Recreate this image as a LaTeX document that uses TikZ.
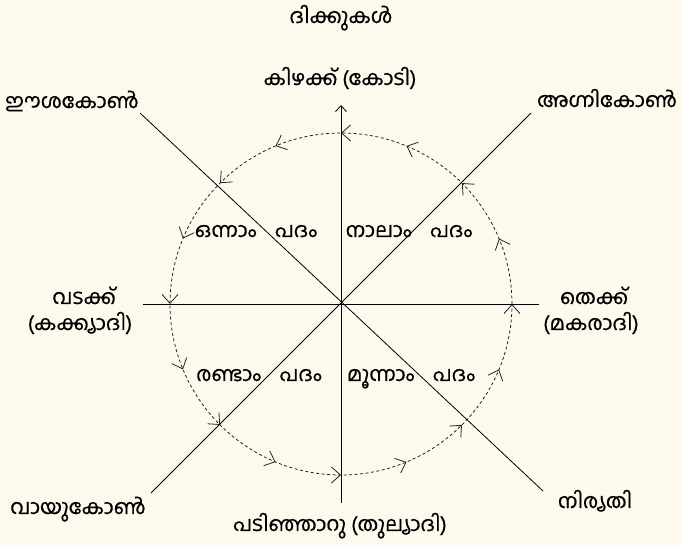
\documentclass[tikz,border=0pt]{standalone}
\usepackage{fontspec}
\newfontfamily\mal[Script=Malayalam,FakeBold=0.5]{Hind Kochi}
\usetikzlibrary{arrows.meta,decorations.markings}
\definecolor{bgcream}{RGB}{253,249,237}
\begin{document}
\begin{tikzpicture}[x=1pt,y=1pt,
  lbl/.style={font=\mal\fontsize{20.5}{24}\selectfont, inner sep=0pt, anchor=base},
  axis/.style={line width=0.8pt, black},
  circ/.style={line width=0.75pt, black!90, dash pattern=on 3pt off 2.5pt,
    postaction={decorate, decoration={markings,
      mark=between positions 0 and 0.99 step 0.0625 with
        {\arrow[black!85, solid, line width=0.8pt]{Straight Barb[length=9pt,width=16pt]}}}}},
]
\fill[bgcream] (0,0) rectangle (681,545);
\useasboundingbox (0,0) rectangle (681,545);

\coordinate (C) at (341,241);
\coordinate (N) at (341,440);
\coordinate (S) at (341,42);
\coordinate (W) at (143,241);
\coordinate (E) at (539,241);
\coordinate (NW) at (140,432);
\coordinate (SE) at (543,54);
\coordinate (NE) at (531,432);
\coordinate (SW) at (151,52);

\draw[circ] (C) circle[radius=171];

\draw[axis] (W) -- (E);
\draw[axis, -{Straight Barb[length=6pt,width=11pt]}] (S) -- (N);
\draw[axis] (NW) -- (SE);
\draw[axis] (NE) -- (SW);

\node[lbl] (title) at (341,522) {ദിക്കുകൾ};
\node[lbl] (east) at (340,460) {കിഴക്ക് (കോടി)};
\node[lbl] (ne) at (72,437) {ഈശകോൺ};
\node[lbl] (se) at (607,438) {അഗ്നികോൺ};
\node[lbl] (north1) at (84,241) {വടക്ക്};
\node[lbl] (north2) at (80,215) {(കക്ക്യാദി)};
\node[lbl] (south1) at (594,241) {തെക്ക്};
\node[lbl] (south2) at (591,215) {(മകരാദി)};
\node[lbl] (nw) at (78,31) {വായുകോൺ};
\node[lbl] (sw) at (595,37) {നിര്യതി};
\node[lbl] (west) at (340,14) {പടിഞ്ഞാറു (തുല്യാദി)};

\node[lbl] (q1) at (256,308) {ഒന്നാം\hspace{0.9em}പദം};
\node[lbl] (q4) at (409,308) {നാലാം\hspace{0.9em}പദം};
\node[lbl] (q2) at (259,164) {രണ്ടാം\hspace{0.9em}പദം};
\node[lbl] (q3) at (411,164) {മൂന്നാം\hspace{0.9em}പദം};
\end{tikzpicture}
\end{document}
